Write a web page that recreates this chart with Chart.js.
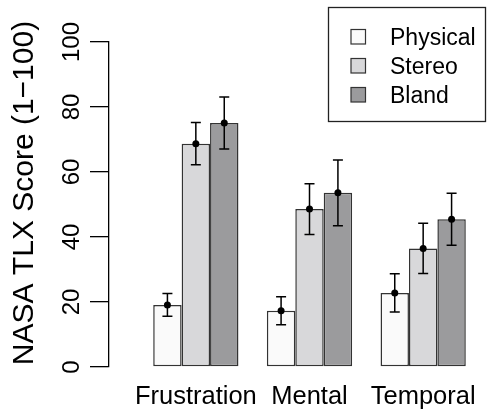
<!DOCTYPE html>
<html>
<head>
<meta charset="utf-8">
<script src="https://cdn.jsdelivr.net/npm/chart.js@4.4.1/dist/chart.umd.min.js"></script>
<style>
  html, body { margin: 0; padding: 0; background: #fff; }
</style>
</head>
<body>
<canvas id="chart" width="487" height="413"></canvas>
<script>
// values
const categories = ["Frustration", "Mental", "Temporal"];
const seriesNames = ["Physical", "Stereo", "Bland"];
const physical = [19.1, 17.3, 22.8];
const stereo = [68.7, 48.6, 36.5];
const bland = [75.1, 53.6, 45.5];
const physicalErr = [3.5, 4.3, 5.9];
const stereoErr = [6.5, 7.8, 7.7];
const blandErr = [8.0, 10.1, 8.0];
const yTicks = [0, 20, 40, 60, 80, 100];
const yTitle = "NASA TLX Score (1\u2212100)";

const fillColors = ["#fafafa", "#d8d8da", "#9b9b9d"];
const FONT = "'Liberation Sans', Arial, Helvetica, sans-serif";

Chart.defaults.font.family = FONT;
Chart.defaults.color = "#000";

function toPoints(values, errs) {
  return values.map((v, i) => ({ x: i, y: v, err: errs[i] }));
}

// mean dots with +/- error whiskers on top of each bar
const errorBars = {
  id: "errorBars",
  afterDatasetsDraw(chart) {
    const ctx = chart.ctx;
    const y = chart.scales.y;
    ctx.save();
    ctx.strokeStyle = "#000";
    ctx.fillStyle = "#000";
    ctx.lineWidth = 1.5;
    chart.data.datasets.forEach((ds, di) => {
      const meta = chart.getDatasetMeta(di);
      meta.data.forEach((bar, j) => {
        const p = ds.data[j];
        const top = y.getPixelForValue(p.y + p.err);
        const bot = y.getPixelForValue(p.y - p.err);
        ctx.beginPath();
        ctx.moveTo(bar.x, top);
        ctx.lineTo(bar.x, bot);
        ctx.moveTo(bar.x - 5, top);
        ctx.lineTo(bar.x + 5, top);
        ctx.moveTo(bar.x - 5, bot);
        ctx.lineTo(bar.x + 5, bot);
        ctx.stroke();
        ctx.beginPath();
        ctx.arc(bar.x, y.getPixelForValue(p.y), 3.5, 0, Math.PI * 2);
        ctx.fill();
      });
    });
    ctx.restore();
  }
};

// y title sits a bit above the axis middle in the original, so draw it here
const sideTitle = {
  id: "sideTitle",
  afterDraw(chart) {
    const ctx = chart.ctx;
    ctx.save();
    ctx.translate(25, 193);
    ctx.rotate(-Math.PI / 2);
    ctx.font = "30px " + FONT;
    ctx.fillStyle = "#000";
    ctx.textAlign = "center";
    ctx.textBaseline = "middle";
    ctx.fillText(yTitle, 0, 0);
    ctx.restore();
  }
};

// boxed legend in the top right corner, like R's legend()
const boxLegend = {
  id: "boxLegend",
  afterDraw(chart) {
    const ctx = chart.ctx;
    ctx.save();
    ctx.strokeStyle = "#222";
    ctx.lineWidth = 1.3;
    ctx.strokeRect(328.5, 7.5, 157, 114);
    ctx.font = "23px " + FONT;
    ctx.textBaseline = "alphabetic";
    chart.data.datasets.forEach((ds, i) => {
      ctx.fillStyle = ds.backgroundColor;
      ctx.fillRect(351, 29.5 + i * 29, 14.5, 14.5);
      ctx.strokeStyle = "#333";
      ctx.lineWidth = 1.2;
      ctx.strokeRect(351, 29.5 + i * 29, 14.5, 14.5);
      ctx.fillStyle = "#000";
      ctx.fillText(ds.label, 390, 45 + i * 29);
    });
    ctx.restore();
  }
};

new Chart(document.getElementById("chart"), {
  type: "bar",
  data: {
    datasets: [physical, stereo, bland].map((vals, i) => ({
      label: seriesNames[i],
      data: toPoints(vals, [physicalErr, stereoErr, blandErr][i]),
      backgroundColor: fillColors[i],
      borderColor: "#333",
      borderWidth: 1.5,
      borderSkipped: false,
      categoryPercentage: 0.75,
      barPercentage: 1.0
    }))
  },
  options: {
    responsive: false,
    animation: false,
    devicePixelRatio: 1,
    layout: { padding: { left: 0, right: 7, top: 42, bottom: 0 } },
    plugins: { legend: { display: false }, tooltip: { enabled: false } },
    scales: {
      x: {
        type: "linear",
        offset: false,
        min: -0.764,
        max: 2.5,
        grid: { display: false, drawTicks: false, offset: false },
        border: { display: false },
        afterBuildTicks: s => { s.ticks = categories.map((c, i) => ({ value: i })); },
        afterFit: s => { s.height = 46; s.paddingLeft = 0; s.paddingRight = 0; },
        ticks: {
          callback: v => categories[v],
          font: { size: 25.5 },
          padding: 15,
          maxRotation: 0,
          autoSkip: false
        }
      },
      y: {
        min: 0,
        max: 100,
        afterBuildTicks: s => { s.ticks = yTicks.map(v => ({ value: v })); },
        afterFit: s => { s.width = 109; s.paddingTop = 0; s.paddingBottom = 0; },
        grid: { drawOnChartArea: false, tickLength: 19, color: "#000", lineWidth: 1.3 },
        border: { color: "#000", width: 1.3 },
        ticks: {
          font: { size: 24 },
          minRotation: 90,
          maxRotation: 90,
          crossAlign: "center",
          padding: -2
        }
      }
    }
  },
  plugins: [errorBars, sideTitle, boxLegend]
});
</script>
</body>
</html>
